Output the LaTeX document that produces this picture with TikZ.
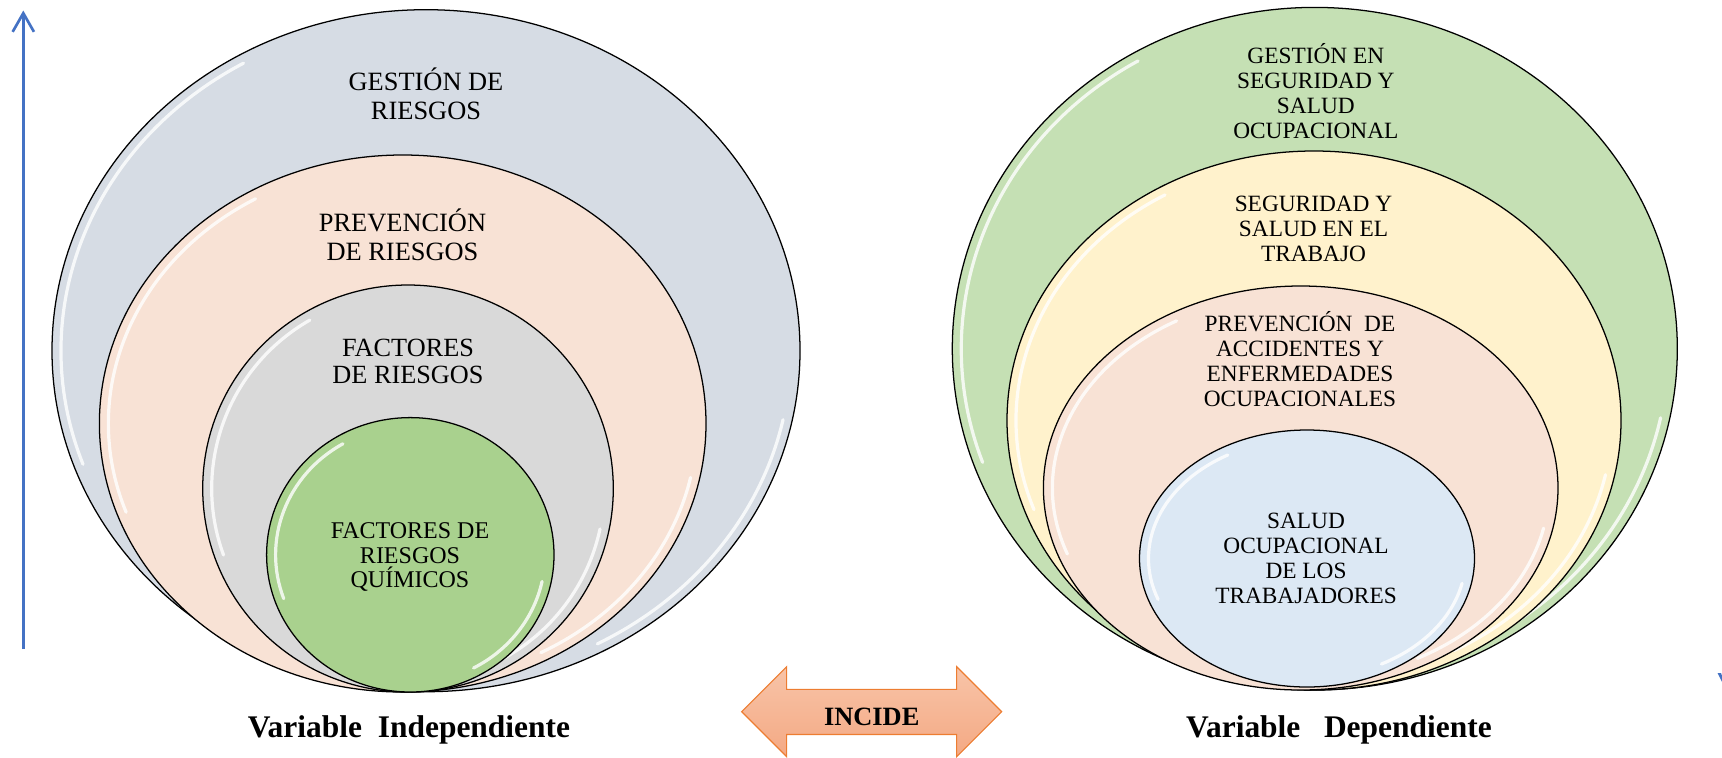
\documentclass[tikz,border=0pt]{standalone}
\usepackage{fontspec}
\setmainfont{Liberation Serif}
\usetikzlibrary{arrows.meta}
\definecolor{cGray}{HTML}{D6DCE4}
\definecolor{cPeach}{HTML}{F8E2D5}
\definecolor{cLGray}{HTML}{D9D9D9}
\definecolor{cGreen}{HTML}{A9D18E}
\definecolor{cLGreen}{HTML}{C5E0B4}
\definecolor{cYellow}{HTML}{FFF2CC}
\definecolor{cBlue}{HTML}{DCE8F4}
\definecolor{cArrowBlue}{HTML}{4472C4}
\definecolor{cOrange}{HTML}{ED7D31}
\definecolor{cSalTop}{HTML}{F8C4A8}
\definecolor{cSalBot}{HTML}{F4A984}
\newcommand\myring[5]{%
  \filldraw[ringline, fill=#1] (#2,#3) ellipse [x radius=#4, y radius=#5];
  \pgfmathsetmacro\myira{#4-9}%
  \pgfmathsetmacro\myirb{#5-9}%
  \pgfmathsetmacro\mysxa{#2+\myira*cos(160)}%
  \pgfmathsetmacro\mysya{#3+\myirb*sin(160)}%
  \pgfmathsetmacro\mysxb{#2+\myira*cos(12)}%
  \pgfmathsetmacro\mysyb{#3+\myirb*sin(12)}%
  \draw[gloss] (\mysxa,\mysya) arc [start angle=160, end angle=240, x radius=\myira, y radius=\myirb];
  \draw[gloss] (\mysxb,\mysyb) arc [start angle=12, end angle=62, x radius=\myira, y radius=\myirb];
}
\begin{document}
\begin{tikzpicture}[x=0.75pt,y=-0.75pt,
  ringline/.style={draw=black, line width=0.95pt},
  gloss/.style={draw=white, line width=2.4pt, line cap=round, opacity=0.8},
  lbl/.style={align=center, inner sep=0pt, anchor=base, text=black},
  bigfont/.style={font={\fontsize{19.8pt}{21.2pt}\selectfont}},
  midfont/.style={font={\fontsize{19.7pt}{20pt}\selectfont}},
  smallfont/.style={font={\fontsize{18pt}{18.5pt}\selectfont}},
  rfont/.style={font={\fontsize{17.5pt}{18.7pt}\selectfont}},
  varfont/.style={font={\fontsize{23.6pt}{26pt}\selectfont\bfseries}},
  bluearrow/.style={draw=cArrowBlue, line width=2pt, -{Straight Barb[length=14pt,width=16pt]}},
  incidearrow/.style={draw=cOrange, line width=0.8pt, top color=cSalTop, bottom color=cSalBot}
]
\useasboundingbox (0,0) rectangle (1722,757);

% ---------- left blue axis ----------
\coordinate (ab) at (23.3,649);
\coordinate (at) at (23.3,10.5);
\draw[bluearrow] (ab) -- (at);

% ---------- left rings ----------
\myring{cGray}{426}{350.7}{374}{341}
\myring{cPeach}{402.7}{423.5}{303.3}{268.5}
\myring{cLGray}{408}{488.5}{205.3}{203.5}
\myring{cGreen}{410.3}{554.8}{143.7}{137.2}

% (base anchor = baseline of the last line)
\node[lbl,bigfont] (gr) at (426,119) {GESTIÓN DE\\RIESGOS};
\node[lbl,bigfont] (pr) at (402.5,260) {PREVENCIÓN\\DE RIESGOS};
\node[lbl,midfont] (fr) at (408,383.3) {FACTORES\\DE RIESGOS};
\node[lbl,smallfont] (fq) at (410,587.7) {FACTORES DE\\RIESGOS\\QUÍMICOS};

% ---------- right rings ----------
\myring{cLGreen}{1314.8}{348.7}{362.5}{341.3}
\myring{cYellow}{1314}{420.5}{307}{269.5}
\myring{cPeach}{1300.7}{488}{257.3}{202}
\myring{cBlue}{1307}{558.5}{167.5}{128.5}

\node[lbl,rfont] (gs) at (1315.8,138.7) {GESTIÓN EN\\SEGURIDAD Y\\SALUD\\OCUPACIONAL};
\node[lbl,rfont] (st) at (1313.5,261.7) {SEGURIDAD Y\\SALUD EN EL\\TRABAJO};
\node[lbl,rfont] (pa) at (1300,406.7) {PREVENCIÓN\ \ DE\\ACCIDENTES Y\\ENFERMEDADES\\OCUPACIONALES};
\node[lbl,rfont] (so) at (1306,603.3) {SALUD\\OCUPACIONAL\\DE LOS\\TRABAJADORES};

% ---------- bottom labels ----------
\node[lbl,varfont] (vi) at (409,737) {Variable\ \ Independiente};
\node[lbl,varfont] (vd) at (1339,737) {Variable\ \ \ Dependiente};

% ---------- INCIDE double arrow ----------
\coordinate (ltip) at (741.7,711.7);
\coordinate (rtip) at (1001.7,711.7);
\draw[incidearrow] (ltip) -- (786.7,666.7) -- (786.7,689.3) -- (956.7,689.3) -- (956.7,666.7)
  -- (rtip) -- (956.7,756.7) -- (956.7,734.5) -- (786.7,734.5) -- (786.7,756.7) -- cycle;
\node[lbl,font={\fontsize{19.8pt}{22pt}\selectfont\bfseries}] (inc) at (871.7,725) {INCIDE};

% ---------- clipped blue mark at right edge ----------
\fill[cArrowBlue] (1717.6,673) -- (1721,673) -- (1722,676) -- (1722,682) -- cycle;
\end{tikzpicture}
\end{document}
